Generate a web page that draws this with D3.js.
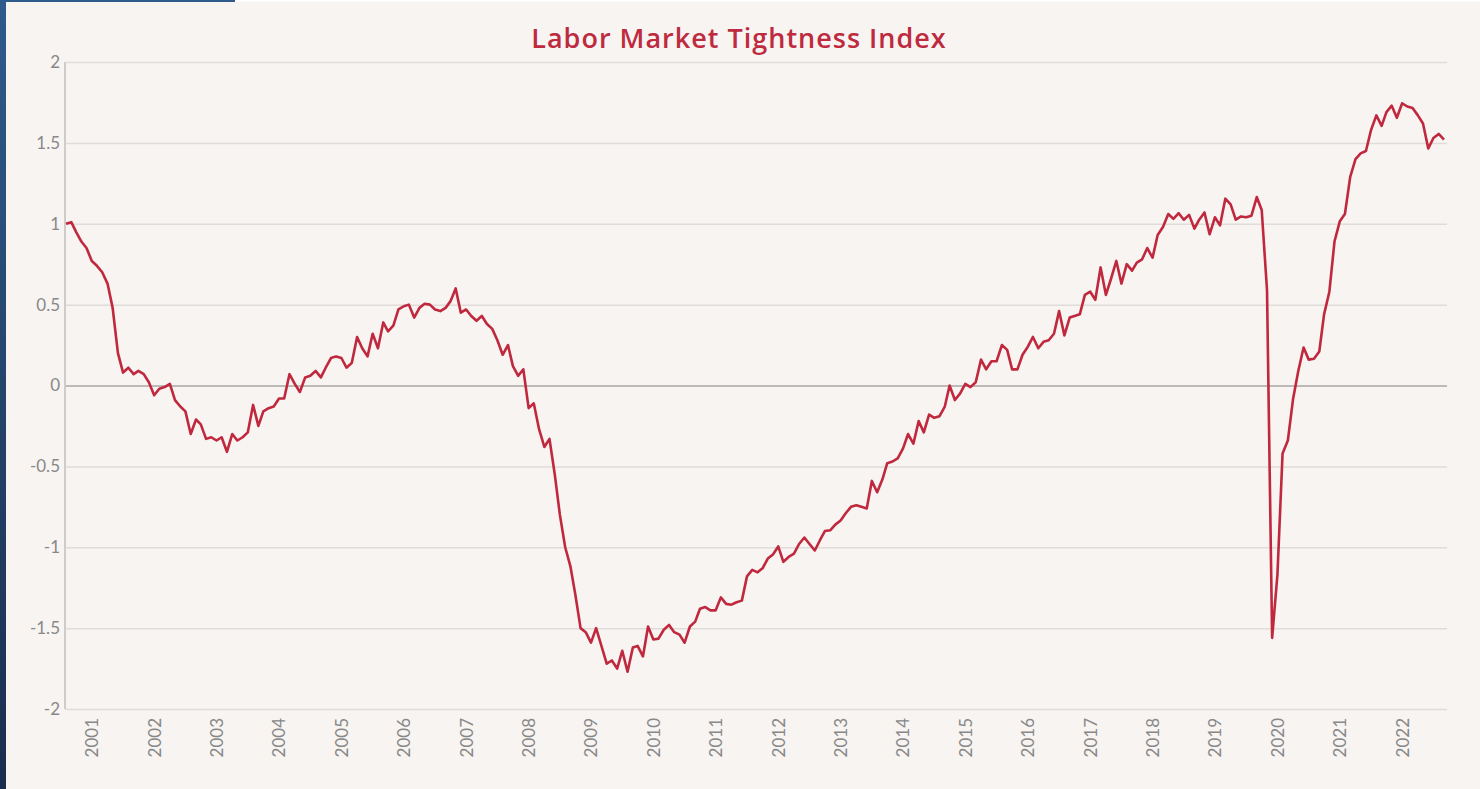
<!DOCTYPE html>
<html lang="en">
<head>
    <meta charset="UTF-8">
    <title>Labor Market Tightness Index</title>
    <script src="https://d3js.org/d3.v7.min.js"></script>
    <style>
        body { margin: 0; background: #f7f4f2; }
        text { font-family: Lato, "Open Sans", sans-serif; }
    </style>
</head>
<body>
    <div id="chart"></div>
    <script>

        // monthly index values, Jan 2001 onwards
        const firstMonth = new Date(2001, 0, 1);
        const values = [
            1.00, 1.01, 0.95, 0.89, 0.85, 0.77, 0.74, 0.70, 0.63, 0.48, 0.20, 0.08,
            0.11, 0.07, 0.09, 0.07, 0.02, -0.06, -0.02, -0.01, 0.01, -0.09, -0.13, -0.16,
            -0.30, -0.21, -0.24, -0.33, -0.32, -0.34, -0.32, -0.41, -0.30, -0.34, -0.32, -0.29,
            -0.12, -0.25, -0.16, -0.14, -0.13, -0.08, -0.08, 0.07, 0.01, -0.04, 0.05, 0.06,
            0.09, 0.05, 0.11, 0.17, 0.18, 0.17, 0.11, 0.14, 0.30, 0.23, 0.18, 0.32,
            0.23, 0.39, 0.335, 0.37, 0.47, 0.49, 0.50, 0.42, 0.48, 0.505, 0.50, 0.47,
            0.46, 0.48, 0.52, 0.60, 0.45, 0.47, 0.43, 0.40, 0.43, 0.38, 0.35, 0.28,
            0.19, 0.25, 0.12, 0.06, 0.10, -0.14, -0.11, -0.27, -0.38, -0.33, -0.55, -0.80,
            -1.00, -1.12, -1.29, -1.50, -1.525, -1.59, -1.50, -1.61, -1.72, -1.70, -1.75, -1.64,
            -1.77, -1.62, -1.61, -1.675, -1.49, -1.57, -1.565, -1.51, -1.48, -1.525, -1.54, -1.59,
            -1.49, -1.46, -1.38, -1.37, -1.39, -1.39, -1.31, -1.35, -1.355, -1.34, -1.33, -1.18,
            -1.14, -1.155, -1.13, -1.07, -1.045, -0.995, -1.09, -1.06, -1.04, -0.98, -0.94, -0.98,
            -1.02, -0.955, -0.90, -0.895, -0.86, -0.835, -0.79, -0.75, -0.74, -0.75, -0.76, -0.59,
            -0.66, -0.58, -0.48, -0.47, -0.45, -0.39, -0.30, -0.36, -0.22, -0.29, -0.18, -0.20,
            -0.19, -0.13, 0.00, -0.09, -0.05, 0.01, -0.01, 0.02, 0.16, 0.10, 0.15, 0.15,
            0.25, 0.22, 0.10, 0.10, 0.19, 0.24, 0.30, 0.23, 0.27, 0.28, 0.32, 0.46,
            0.31, 0.42, 0.43, 0.44, 0.56, 0.58, 0.53, 0.73, 0.56, 0.66, 0.77, 0.63,
            0.75, 0.71, 0.76, 0.78, 0.85, 0.79, 0.93, 0.98, 1.06, 1.03, 1.065, 1.025,
            1.055, 0.97, 1.025, 1.07, 0.935, 1.04, 0.99, 1.155, 1.12, 1.025, 1.045, 1.04,
            1.05, 1.165, 1.085, 0.59, -1.56, -1.17, -0.42, -0.34, -0.08, 0.09, 0.235, 0.16,
            0.165, 0.21, 0.44, 0.58, 0.89, 1.015, 1.06, 1.29, 1.40, 1.435, 1.45, 1.58,
            1.67, 1.605, 1.69, 1.73, 1.655, 1.745, 1.725, 1.715, 1.67, 1.62, 1.465, 1.53,
            1.555, 1.52
        ];
        const yTicks = [-2, -1.5, -1, -0.5, 0, 0.5, 1, 1.5, 2];
        const yearLabels = d3.range(2001, 2023);

        const width = 1480;
        const height = 789;
        const plotLeft = 65;
        const plotRight = 1447;

        const data = values.map((v, i) => ({ date: d3.timeMonth.offset(firstMonth, i), value: v }));

        const x = d3.scaleTime()
            .domain([firstMonth, new Date(2023, 1, 1)])
            .range([66, 1444]);

        const y = d3.scaleLinear()
            .domain([-2, 2])
            .range([709, 62]);

        const svg = d3.select("#chart")
            .append("svg")
            .attr("width", width)
            .attr("height", height);

        svg.append("rect")
            .attr("width", width)
            .attr("height", height)
            .attr("fill", "#f7f4f2");

        // blue page edge on the left and top
        const grad = svg.append("defs").append("linearGradient")
            .attr("id", "edge")
            .attr("x1", 0).attr("y1", 0).attr("x2", 0).attr("y2", 1);
        grad.append("stop").attr("offset", "0%").attr("stop-color", "#2e5b8b");
        grad.append("stop").attr("offset", "100%").attr("stop-color", "#1b2d4d");
        svg.append("rect").attr("x", 0).attr("y", 0).attr("width", 6).attr("height", height).attr("fill", "url(#edge)");
        svg.append("rect").attr("x", 0).attr("y", 0).attr("width", 235).attr("height", 2).attr("fill", "#2e5b8b");
        svg.append("rect").attr("x", 235).attr("y", 0).attr("width", width - 235).attr("height", 1.5).attr("fill", "#ffffff");

        svg.append("text")
            .attr("x", 739)
            .attr("y", 48)
            .attr("text-anchor", "middle")
            .attr("fill", "#be2a3e")
            .style("font-family", "'Open Sans', sans-serif")
            .style("font-weight", 600)
            .style("font-size", "27px")
            .style("letter-spacing", "1px")
            .text("Labor Market Tightness Index");

        // y axis with grid lines
        const yAxis = svg.append("g")
            .attr("transform", `translate(${plotLeft},0)`)
            .call(d3.axisLeft(y)
                .tickValues(yTicks)
                .tickSize(-(plotRight - plotLeft))
                .tickPadding(5)
                .tickFormat(d => String(d)));
        yAxis.select(".domain").remove();
        yAxis.selectAll(".tick line")
            .attr("stroke", d => d === 0 ? "#bcb9b7" : "#e0dcd9")
            .attr("stroke-width", d => d === 0 ? 2 : 1.5);
        yAxis.selectAll(".tick text")
            .attr("fill", "#888888")
            .style("font-size", "17px")
            .style("font-weight", 400);

        svg.append("line")
            .attr("x1", plotLeft).attr("x2", plotLeft)
            .attr("y1", y(2)).attr("y2", y(-2))
            .attr("stroke", "#cfcccb")
            .attr("stroke-width", 2);

        // year labels
        const xAxis = svg.append("g")
            .attr("transform", `translate(0,${y(-2)})`)
            .call(d3.axisBottom(x)
                .tickValues(yearLabels.map(yr => new Date(yr, 5, 1)))
                .tickSize(0)
                .tickFormat(d3.timeFormat("%Y")));
        xAxis.select(".domain").remove();
        xAxis.selectAll(".tick text")
            .attr("transform", "rotate(-90)")
            .attr("text-anchor", "end")
            .attr("x", -9)
            .attr("y", 0)
            .attr("dy", "0.35em")
            .attr("fill", "#888888")
            .style("font-size", "17px")
            .style("font-weight", 400);

        const line = d3.line()
            .x(d => x(d.date))
            .y(d => y(d.value));

        svg.append("path")
            .datum(data)
            .attr("fill", "none")
            .attr("stroke", "#c0283e")
            .attr("stroke-width", 2.6)
            .attr("stroke-linejoin", "round")
            .attr("d", line);

    </script>
</body>
</html>
